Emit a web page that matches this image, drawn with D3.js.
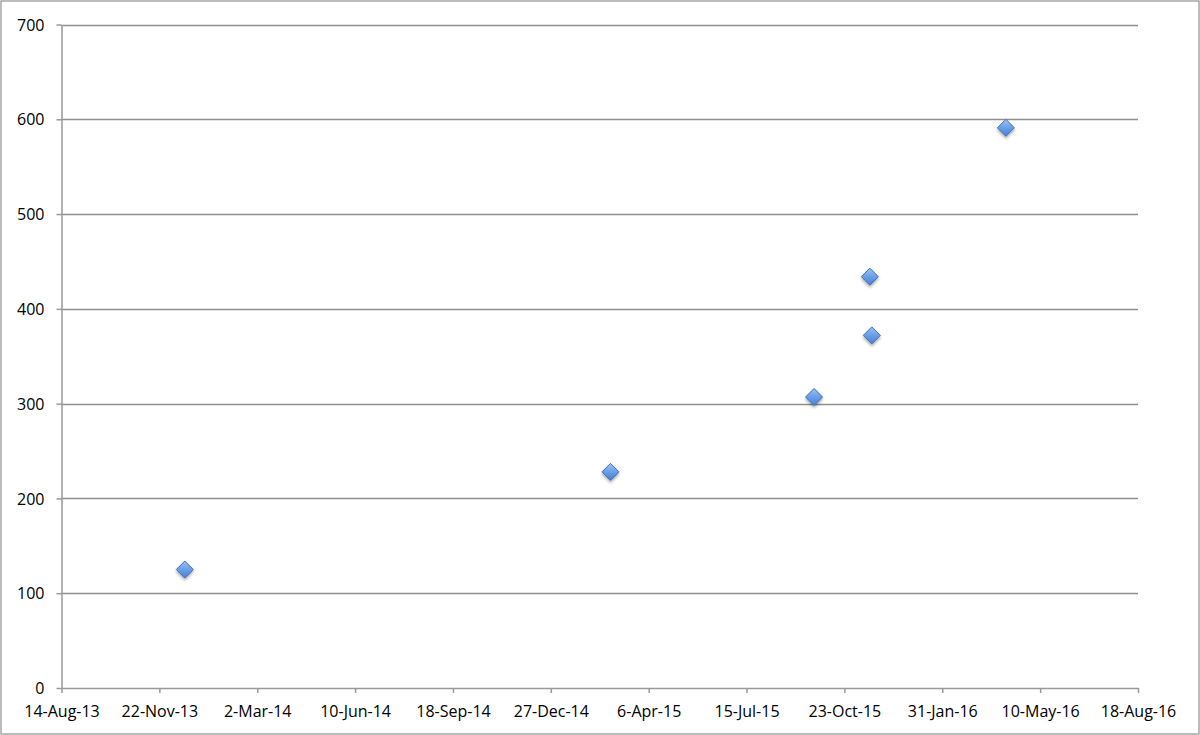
<!DOCTYPE html>
<html>
<head>
<meta charset="utf-8">
<script src="https://cdn.jsdelivr.net/npm/d3@7"></script>
<style>
  body { margin: 0; background: #fff; }
  svg text { font-family: "Open Sans", "DejaVu Sans", sans-serif; fill: #000; }
</style>
</head>
<body>
<div id="plotholder"></div>
<script>
const DATES = ['2013-12-18', '2015-02-26', '2015-09-22', '2015-11-18', '2015-11-20', '2016-04-05']
const VALUES = [125, 228, 307, 434, 372, 591]

// axis set-up: x ticks every 100 days, y every 100
const XSTART = '2013-08-14'
const XSTEP_DAYS = 100
const XTICK_COUNT = 12
const YTICKS = [0, 100, 200, 300, 400, 500, 600, 700]

const W = 1200, H = 735
const margin = { left: 61.5, right: 62, top: 24.5, bottom: 47 }

const parse = d3.timeParse('%Y-%m-%d')
const fmt = d => d3.timeFormat('%-d-%b-%y')(d)

const xticks = d3.range(XTICK_COUNT).map(i => d3.timeDay.offset(parse(XSTART), i * XSTEP_DAYS))

const svg = d3.select('#plotholder').append('svg')
  .attr('width', W)
  .attr('height', H)

// outer frame
svg.append('rect')
  .attr('x', 1).attr('y', 1)
  .attr('width', W - 2).attr('height', H - 2)
  .attr('fill', 'white')
  .attr('stroke', '#a6a6a6')
  .attr('stroke-width', 1.5)

const xscale = d3.scaleTime()
  .domain([xticks[0], xticks[xticks.length - 1]])
  .range([margin.left, W - margin.right])

const yscale = d3.scaleLinear()
  .domain([0, 700])
  .range([H - margin.bottom, margin.top])

const defs = svg.append('defs')
const grad = defs.append('linearGradient')
  .attr('id', 'mk').attr('x1', 0).attr('y1', 0).attr('x2', 0).attr('y2', 1)
grad.append('stop').attr('offset', '0%').attr('stop-color', '#9cc2f2')
grad.append('stop').attr('offset', '50%').attr('stop-color', '#6a9ee6')
grad.append('stop').attr('offset', '100%').attr('stop-color', '#4a80d4')

const shadow = defs.append('filter').attr('id', 'sh')
  .attr('x', '-50%').attr('y', '-50%').attr('width', '200%').attr('height', '200%')
shadow.append('feDropShadow')
  .attr('dx', 0).attr('dy', 2).attr('stdDeviation', 1.6)
  .attr('flood-color', '#000').attr('flood-opacity', 0.35)

// gridlines
svg.append('g')
  .selectAll('line')
  .data(YTICKS.filter(v => v > 0))
  .enter().append('line')
  .attr('x1', margin.left).attr('x2', W - margin.right)
  .attr('y1', d => Math.round(yscale(d)) + 0.5)
  .attr('y2', d => Math.round(yscale(d)) + 0.5)
  .attr('stroke', '#8f8f8f')
  .attr('stroke-width', 1.3)

// y axis
const yaxis = svg.append('g')
  .attr('transform', `translate(${margin.left},0)`)
  .call(d3.axisLeft(yscale).tickValues(YTICKS).tickSize(5).tickPadding(12).tickSizeOuter(0))
yaxis.select('.domain').attr('stroke', '#999').attr('stroke-width', 1.5)
yaxis.selectAll('.tick line').attr('stroke', '#999').attr('stroke-width', 1.5)
yaxis.selectAll('.tick text').style('font-size', '16px').attr('dy', '0.35em')

// x axis
const xaxis = svg.append('g')
  .attr('transform', `translate(0,${H - margin.bottom})`)
  .call(d3.axisBottom(xscale).tickValues(xticks).tickFormat(fmt).tickSize(5).tickPadding(13).tickSizeOuter(0))
xaxis.select('.domain').attr('stroke', '#999').attr('stroke-width', 1.5)
xaxis.selectAll('.tick line').attr('stroke', '#999').attr('stroke-width', 1.5)
xaxis.selectAll('.tick text').style('font-size', '16px')

// points
const pts = DATES.map((d, i) => ({ date: parse(d), value: VALUES[i] }))
const r = 8.5
svg.append('g')
  .selectAll('path')
  .data(pts)
  .enter().append('path')
  .attr('d', `M0,${-r}L${r},0L0,${r}L${-r},0Z`)
  .attr('transform', d => `translate(${xscale(d.date)},${yscale(d.value)})`)
  .attr('fill', 'url(#mk)')
  .attr('stroke', '#3d6fb8')
  .attr('stroke-width', 1)
  .attr('filter', 'url(#sh)')
</script>
</body>
</html>
